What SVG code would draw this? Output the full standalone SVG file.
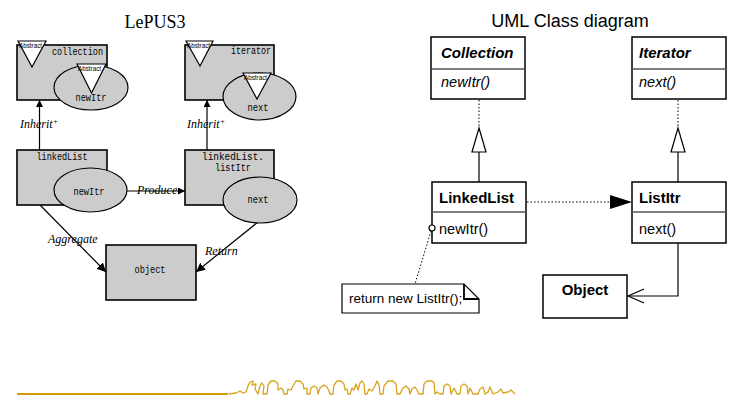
<svg xmlns="http://www.w3.org/2000/svg" width="731" height="406" viewBox="0 0 731 406">
  <defs>
    <style>
      .title-serif { font-family: "Liberation Serif", "DejaVu Serif", serif; font-size: 18px; fill: #000; }
      .title-sans { font-family: "Liberation Sans", Arial, sans-serif; font-size: 18px; fill: #000; }
      .lbox { fill: #cccccc; stroke: #000; stroke-width: 1.6; }
      .lell { fill: #cccccc; stroke: #000; stroke-width: 1.2; }
      .tri { fill: #fff; stroke: #000; stroke-width: 1.2; }
      .abs { font-family: "Liberation Sans", Arial, sans-serif; font-size: 6.3px; fill: #000; }
      .mono { font-family: "Liberation Mono", "DejaVu Sans Mono", monospace; font-size: 11px; fill: #000; }
      .rel { font-family: "Liberation Serif", "DejaVu Serif", serif; font-style: italic; font-size: 12px; fill: #000; }
      .edge { fill: none; stroke: #000; stroke-width: 1.2; }
      .ubox { fill: #fff; stroke: #000; stroke-width: 1.5; }
      .udiv { stroke: #555; stroke-width: 1.5; }
      .cname { font-family: "Liberation Sans", Arial, sans-serif; font-weight: bold; font-size: 15px; fill: #000; }
      .cabs { font-style: italic; }
      .meth { font-family: "Liberation Sans", Arial, sans-serif; font-size: 14.5px; fill: #000; }
      .note { font-family: "Liberation Sans", Arial, sans-serif; font-size: 13.5px; fill: #000; }
      .dot { fill: none; stroke: #000; stroke-width: 1; stroke-dasharray: 1.5 2; }
      .deco { fill: none; stroke: #d9a21c; stroke-width: 1.3; stroke-linejoin: round; }
    </style>
    <marker id="lp-arrow" viewBox="0 0 10 10" refX="10" refY="5" markerWidth="7" markerHeight="7" markerUnits="userSpaceOnUse" orient="auto">
      <path d="M0,0 L10,5 L0,10 Z" fill="#000"/>
    </marker>
    <marker id="lp-arrow-big" viewBox="0 0 10 10" refX="10" refY="5" markerWidth="9" markerHeight="9" markerUnits="userSpaceOnUse" orient="auto">
      <path d="M0,0 L10,5 L0,10 Z" fill="#000"/>
    </marker>
  </defs>

  <rect width="731" height="406" fill="#fff"/>

  <!-- LePUS3 side -->
  <text class="title-serif" x="155" y="28" text-anchor="middle">LePUS3</text>

  <g id="lepus-edges">
    <line class="edge" x1="39.5" y1="150" x2="39.5" y2="100" marker-end="url(#lp-arrow)"/>
    <line class="edge" x1="207" y1="150" x2="207" y2="100" marker-end="url(#lp-arrow)"/>
    <line class="edge" x1="127" y1="191" x2="185" y2="191" marker-end="url(#lp-arrow)"/>
    <line class="edge" x1="40" y1="205" x2="106" y2="272" marker-end="url(#lp-arrow-big)"/>
    <line class="edge" x1="258" y1="222" x2="196" y2="272" marker-end="url(#lp-arrow-big)"/>
    <text class="rel" x="20" y="128">Inherit<tspan font-size="8" dy="-4">+</tspan></text>
    <text class="rel" x="187" y="128">Inherit<tspan font-size="8" dy="-4">+</tspan></text>
    <text class="rel" x="137" y="194">Produce</text>
    <text class="rel" x="48" y="243">Aggregate</text>
    <text class="rel" x="205" y="255">Return</text>
  </g>

  <g id="lp-collection">
    <rect class="lbox" x="17" y="45" width="90" height="55"/>
    <text class="mono" x="103" y="55" text-anchor="end" textLength="51" lengthAdjust="spacingAndGlyphs">collection</text>
    <polygon class="tri" points="18,41 46,41 32,67"/>
    <text class="abs" x="19" y="48">Abstract</text>
    <ellipse class="lell" cx="91" cy="87.5" rx="37" ry="22.5"/>
    <polygon class="tri" points="77,64 106,64 91.5,93"/>
    <text class="abs" x="78" y="71">Abstract</text>
    <text class="mono" x="91" y="101" text-anchor="middle" textLength="31" lengthAdjust="spacingAndGlyphs">newItr</text>
  </g>

  <g id="lp-iterator">
    <rect class="lbox" x="185" y="45" width="89" height="55"/>
    <text class="mono" x="271" y="54" text-anchor="end" textLength="40" lengthAdjust="spacingAndGlyphs">iterator</text>
    <polygon class="tri" points="186,41 213,41 200,66"/>
    <text class="abs" x="187" y="48">Abstract</text>
    <ellipse class="lell" cx="259.5" cy="96.5" rx="36.5" ry="23.5"/>
    <polygon class="tri" points="243,73 271,73 257,99"/>
    <text class="abs" x="244" y="80">Abstract</text>
    <text class="mono" x="258" y="111" text-anchor="middle" textLength="21" lengthAdjust="spacingAndGlyphs">next</text>
  </g>

  <g id="lp-linkedlist">
    <rect class="lbox" x="17" y="150" width="90" height="55"/>
    <text class="mono" x="62" y="160" text-anchor="middle" textLength="51" lengthAdjust="spacingAndGlyphs">linkedList</text>
    <ellipse class="lell" cx="90.5" cy="190" rx="36.5" ry="22"/>
    <text class="mono" x="89" y="195" text-anchor="middle" textLength="31" lengthAdjust="spacingAndGlyphs">newItr</text>
  </g>

  <g id="lp-listitr">
    <rect class="lbox" x="185" y="150" width="89" height="55"/>
    <text class="mono" x="233" y="160" text-anchor="middle" textLength="62" lengthAdjust="spacingAndGlyphs">linkedList.</text>
    <text class="mono" x="233" y="171" text-anchor="middle" textLength="36" lengthAdjust="spacingAndGlyphs">listItr</text>
    <ellipse class="lell" cx="260" cy="200" rx="37" ry="23"/>
    <text class="mono" x="258" y="203" text-anchor="middle" textLength="21" lengthAdjust="spacingAndGlyphs">next</text>
  </g>

  <g id="lp-object">
    <rect class="lbox" x="106" y="245" width="90" height="55"/>
    <text class="mono" x="150" y="273" text-anchor="middle" textLength="31" lengthAdjust="spacingAndGlyphs">object</text>
  </g>

  <!-- UML side -->
  <text class="title-sans" x="570" y="27" text-anchor="middle">UML Class diagram</text>

  <g id="uml-edges">
    <line class="dot" x1="479" y1="100" x2="479" y2="128"/>
    <polygon points="479,128 486,152 472,152" fill="#fff" stroke="#000" stroke-width="1.2"/>
    <line class="edge" x1="479" y1="152" x2="479" y2="182"/>
    <line class="dot" x1="678" y1="100" x2="678" y2="128"/>
    <polygon points="678,128 685,152 671,152" fill="#fff" stroke="#000" stroke-width="1.2"/>
    <line class="edge" x1="678" y1="152" x2="678" y2="182"/>
    <line class="dot" x1="527" y1="202" x2="611" y2="202"/>
    <polygon points="610,195 632,202 610,209" fill="#000"/>
    <polyline class="edge" points="678,243 678,296 628,296"/>
    <polyline class="edge" points="644,289 628,296 644,303"/>
    <line class="dot" x1="431" y1="231" x2="415" y2="284"/>
  </g>

  <g id="uml-collection">
    <rect class="ubox" x="431" y="37" width="94" height="62"/>
    <line class="udiv" x1="431" y1="69" x2="525" y2="69"/>
    <text class="cname cabs" x="441" y="58">Collection</text>
    <text class="meth cabs" x="441" y="87">newItr()</text>
  </g>

  <g id="uml-iterator">
    <rect class="ubox" x="632" y="37" width="94" height="62"/>
    <line class="udiv" x1="632" y1="69" x2="726" y2="69"/>
    <text class="cname cabs" x="639" y="58">Iterator</text>
    <text class="meth cabs" x="639" y="87">next()</text>
  </g>

  <g id="uml-linkedlist">
    <rect class="ubox" x="432" y="182" width="94" height="61"/>
    <line class="udiv" x1="432" y1="212" x2="526" y2="212"/>
    <text class="cname" x="439" y="203">LinkedList</text>
    <text class="meth" x="439" y="234">newItr()</text>
    <circle cx="432" cy="228" r="3" fill="#fff" stroke="#000" stroke-width="1.2"/>
  </g>

  <g id="uml-listitr">
    <rect class="ubox" x="632" y="182" width="94" height="61"/>
    <line class="udiv" x1="632" y1="212" x2="726" y2="212"/>
    <text class="cname" x="639" y="203">ListItr</text>
    <text class="meth" x="639" y="234">next()</text>
  </g>

  <g id="uml-object">
    <rect class="ubox" x="543" y="275" width="84" height="43"/>
    <text class="cname" x="585" y="295" text-anchor="middle">Object</text>
  </g>

  <g id="uml-note">
    <path d="M342,284 H464 L479,299 V313 H342 Z" fill="#fff" stroke="#000" stroke-width="1.2"/>
    <polyline points="464,284 464,299 479,299" fill="none" stroke="#000" stroke-width="1.8"/>
    <text class="note" x="349" y="303">return new ListItr();</text>
  </g>

  <!-- footer ornament: rule plus a hand-drawn skyline -->
  <line x1="17" y1="394" x2="228" y2="394" stroke="#d49a00" stroke-width="2.2"/>
  <path class="deco" d="M229,394 L236,393 L240,391 L243,393 L246,392
    L248,386 L250,382 L253,381 L252,385 L256,384 L255,389 L258,394 L260,386 L262,383 L264,386 L263,394
    L267,394 L268,385 L271,381 L275,381 L278,384 L278,390 L281,388 L283,390 L284,394
    L287,394 L288,389 L291,390 L293,386 L296,381 L300,381 L303,384 L304,389 L307,388 L307,394
    L310,394 L311,388 L314,386 L317,388 L318,394 L320,388 L324,385 L327,387 L329,391 L330,394
    L333,394 L334,385 L337,381 L341,381 L344,384 L345,390 L347,389 L348,394
    L350,394 L352,388 L354,390 L356,384 L358,390 L360,383 L362,381 L364,384 L365,394
    L367,394 L369,389 L372,391 L375,386 L377,381 L379,385 L380,394
    L383,394 L384,386 L388,381 L393,381 L396,384 L397,394 L400,394
    L403,388 L406,386 L409,389 L410,394 L412,389 L415,387 L417,390 L419,394
    L423,394 L424,384 L427,381 L432,381 L434,383 L435,394 L437,392 L440,394
    L443,394 L444,386 L447,384 L450,386 L451,394 L454,388 L457,394
    L460,394 L461,386 L464,384 L467,386 L468,394 L470,388 L473,394
    L478,394 L480,389 L483,387 L485,394 L488,392 L490,387 L493,394 L498,392 L501,389 L503,393 L508,392 L511,390 L515,394"/>
</svg>
